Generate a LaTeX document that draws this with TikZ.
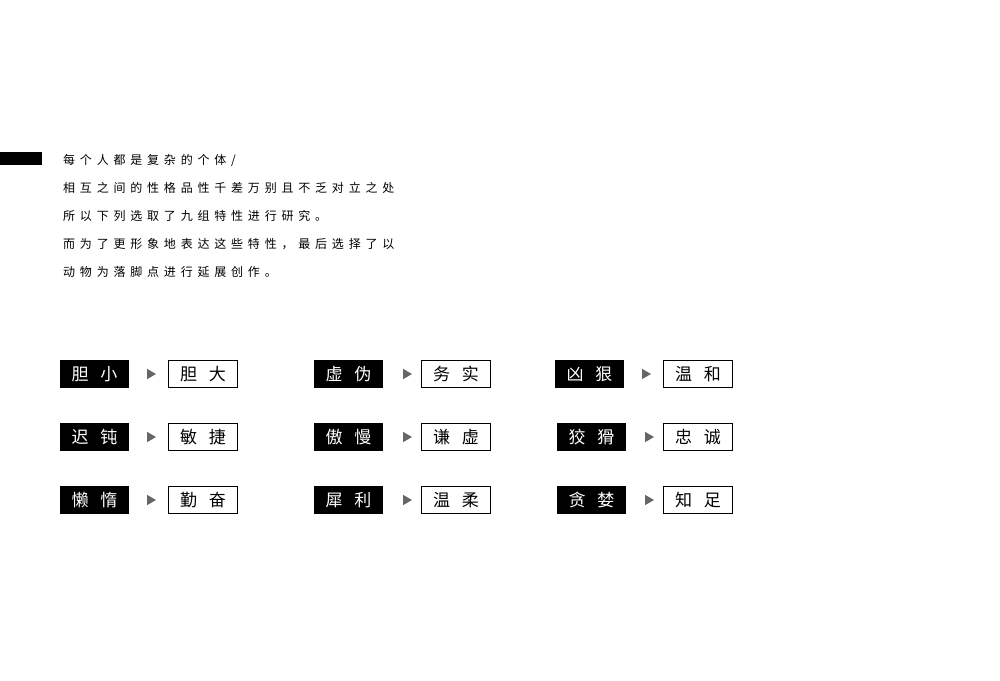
\documentclass[tikz,border=0pt]{standalone}
\usepackage{fontspec}
\usetikzlibrary{shapes.geometric}
\newfontfamily\cjk{Noto Sans CJK SC}
\newfontfamily\cjkp[LetterSpace=40]{Noto Sans CJK SC}
\begin{document}
\begin{tikzpicture}[x=1pt,y=-1pt,
  negbox/.style={fill=black,text=white,minimum width=69pt,minimum height=28pt,inner sep=0pt,font=\cjk\fontsize{17}{17}\selectfont},
  posbox/.style={draw=black,line width=0.8pt,fill=white,minimum width=69pt,minimum height=27pt,inner sep=0pt,font=\cjk\fontsize{17}{17}\selectfont},
  tri/.style={isosceles triangle,isosceles triangle apex angle=60,fill=black!60,minimum height=9pt,inner sep=0pt},
  para/.style={anchor=west,inner sep=0pt,font=\cjkp\fontsize{12}{12}\selectfont}]
\useasboundingbox (0,0) rectangle (1000,680);
\fill[white] (0,0) rectangle (1000,680);
\fill[black] (0,152) rectangle (42,165);
\node[para] (l1) at (63,160) {每个人都是复杂的个体/};
\node[para] (l2) at (63,188) {相互之间的性格品性千差万别且不乏对立之处};
\node[para] (l3) at (63,216) {所以下列选取了九组特性进行研究。};
\node[para] (l4) at (63,244) {而为了更形象地表达这些特性，最后选择了以};
\node[para] (l5) at (63,272) {动物为落脚点进行延展创作。};
\newcommand\pairrow[7]{%
  \node[negbox] (#1a) at (#2,#3) {#4};
  \node[tri] (#1t) at (#5,#3) {};
  \node[posbox] (#1b) at (#6,#3) {#7};}
\def\g{\hspace{12pt}}
\pairrow{a}{94.5}{374}{胆\g 小}{150}{203}{胆\g 大}
\pairrow{b}{94.5}{437}{迟\g 钝}{150}{203}{敏\g 捷}
\pairrow{c}{94.5}{500}{懒\g 惰}{150}{203}{勤\g 奋}
\pairrow{d}{348.5}{374}{虚\g 伪}{406}{456}{务\g 实}
\pairrow{e}{348.5}{437}{傲\g 慢}{406}{456}{谦\g 虚}
\pairrow{f}{348.5}{500}{犀\g 利}{406}{456}{温\g 柔}
\pairrow{g}{589.5}{374}{凶\g 狠}{645}{698}{温\g 和}
\pairrow{h}{591.5}{437}{狡\g 猾}{648}{698}{忠\g 诚}
\pairrow{i}{591.5}{500}{贪\g 婪}{648}{698}{知\g 足}
\end{tikzpicture}
\end{document}
